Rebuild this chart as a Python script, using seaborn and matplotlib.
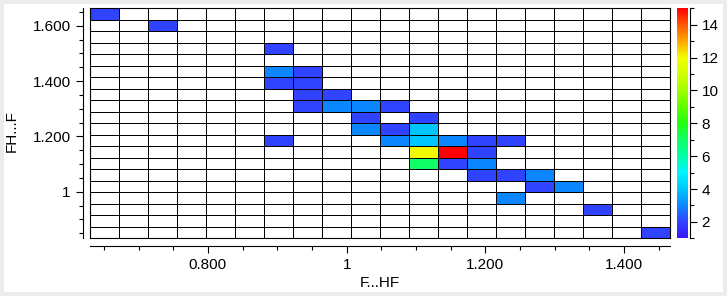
import numpy as np
import pandas as pd
import seaborn as sns
import matplotlib
matplotlib.use("Agg")
import matplotlib.pyplot as plt
from matplotlib.colors import LinearSegmentedColormap
from matplotlib.ticker import MultipleLocator, FuncFormatter

# ---- data: 2D histogram bins ----
x_bin_start = 0.6305
x_bin_width = 0.0418
y_bin_start = 0.8316
y_bin_width = 0.04157
n_bins = 20

# non-empty cells: x bin index, y bin index (from bottom), count
cell_x = [0, 2, 6, 6, 7, 6, 7, 7, 8, 7, 8, 9, 10, 9, 11, 9, 10, 11, 6, 10, 11, 12, 13, 14,
          11, 12, 13, 11, 12, 13, 13, 14, 15, 15, 16, 14, 17, 19]
cell_y = [19, 18, 16, 14, 14, 13, 13, 12, 12, 11, 11, 11, 11, 10, 10, 9, 9, 9, 8, 8, 8, 8, 8, 8,
          7, 7, 7, 6, 6, 6, 5, 5, 5, 4, 4, 3, 2, 0]
cell_count = [2, 2, 2, 3, 2, 2, 2, 2, 2, 2, 3, 3, 2, 2, 2, 3, 2, 4, 2, 3, 4, 3, 2, 2,
              12, 15, 2, 7, 2, 3, 2, 2, 3, 2, 3, 3, 2, 2]

x_label = "F...HF"
y_label = "FH...F"
c_min, c_max = 1, 15

# colour table (value -> colour)
ct_values = [1, 2, 3, 4, 5, 6, 7, 8, 9, 10, 11, 12, 13, 14, 15]
ct_colors = ["#3c14ff", "#3044ff", "#0a88ff", "#00c8ff", "#00f4ff", "#00ffa8", "#10ff66",
             "#20ff10", "#60ff00", "#a0ff00", "#d0ff00", "#f0ff00", "#ffa800", "#ff5a00", "#ff0000"]

# ---- build table ----
grid = np.zeros((n_bins, n_bins))
for xi, yi, c in zip(cell_x, cell_y, cell_count):
    grid[yi, xi] = c
x_centers = x_bin_start + x_bin_width * (np.arange(n_bins) + 0.5)
y_centers = y_bin_start + y_bin_width * (np.arange(n_bins) + 0.5)
df = pd.DataFrame(grid, index=np.round(y_centers, 4), columns=np.round(x_centers, 4))
df = df.iloc[::-1]

cmap = LinearSegmentedColormap.from_list(
    "igor_rainbow",
    [((v - c_min) / (c_max - c_min), col) for v, col in zip(ct_values, ct_colors)])
cmap.set_under("white")

sns.set_style("ticks")
plt.rcParams["font.family"] = ["Liberation Sans", "DejaVu Sans"]
plt.rcParams["font.size"] = 11
for k in ("text.color", "axes.labelcolor", "xtick.color", "ytick.color", "axes.edgecolor"):
    plt.rcParams[k] = "black"

FS = 11
W, H = 727, 296
fig = plt.figure(figsize=(W / 100, H / 100), dpi=100, facecolor="#ececec")
bg = fig.add_axes([4 / W, 4 / H, 719 / W, 288 / H], zorder=-10)
bg.set_facecolor("white")
bg.set_xticks([])
bg.set_yticks([])
for s in bg.spines.values():
    s.set_visible(False)

def rect(x0, y0, x1, y1):
    return [x0 / W, 1 - y1 / H, (x1 - x0) / W, (y1 - y0) / H]

plot_box = (90.3, 8.3, 670.3, 238.3)
ax = fig.add_axes(rect(*plot_box))
cax = fig.add_axes(rect(677.3, 8.3, 688.3, 238.3))

sns.heatmap(df, ax=ax, cmap=cmap, vmin=c_min, vmax=c_max, linewidths=0.65, linecolor="black",
            xticklabels=False, yticklabels=False, cbar_ax=cax)
ax.set_xlabel("")
ax.set_ylabel("")
for s in ax.spines.values():
    s.set_visible(True)
    s.set_linewidth(0.8)
    s.set_color("black")
ax.tick_params(length=0)

cbar = ax.collections[0].colorbar
cbar.outline.set_visible(False)
cax.tick_params(length=0, labelright=False, labelleft=False)
cax.set_yticks([])

# ---- real-valued axes overlay ----
ax2 = fig.add_axes(rect(*plot_box), facecolor="none")
ax2.set_xlim(x_bin_start, x_bin_start + n_bins * x_bin_width)
ax2.set_ylim(y_bin_start, y_bin_start + n_bins * y_bin_width)
ax2.spines["top"].set_visible(False)
ax2.spines["right"].set_visible(False)
ax2.spines["left"].set_position(("outward", 5.5))
ax2.spines["bottom"].set_position(("outward", 5.5))
for s in ("left", "bottom"):
    ax2.spines[s].set_linewidth(0.8)
    ax2.spines[s].set_color("black")

def igor_fmt(v, pos):
    if abs(v - round(v)) < 1e-9:
        return f"{int(round(v))}"
    return f"{v:.3f}"

for axis in (ax2.xaxis, ax2.yaxis):
    axis.set_major_locator(MultipleLocator(0.2))
    axis.set_minor_locator(MultipleLocator(0.05))
    axis.set_major_formatter(FuncFormatter(igor_fmt))
ax2.tick_params(which="major", direction="out", length=5.2, width=0.8, color="black",
                labelsize=FS, pad=3.5)
ax2.tick_params(which="minor", direction="out", length=3.2, width=0.8, color="black")
ax2.grid(False)

# ---- colour bar scale ----
ax3 = fig.add_axes(rect(689.2, 8.3, 690.0, 238.3), facecolor="none")
ax3.set_ylim(c_min, c_max)
for s in ("top", "left", "bottom"):
    ax3.spines[s].set_visible(False)
ax3.spines["right"].set_linewidth(0.8)
ax3.spines["right"].set_color("black")
ax3.xaxis.set_visible(False)
ax3.yaxis.tick_right()
ax3.yaxis.set_major_locator(MultipleLocator(2))
ax3.yaxis.set_minor_locator(MultipleLocator(1))
ax3.yaxis.set_major_formatter(FuncFormatter(lambda v, p: f"{int(round(v))}"))
ax3.tick_params(which="major", direction="out", length=5.2, width=0.8, labelsize=FS, pad=3)
ax3.tick_params(which="minor", direction="out", length=3.2, width=0.8)

fig.text(380 / W, 1 - 283 / H, x_label, ha="center", va="center", fontsize=FS)
fig.text(12 / W, 1 - 131 / H, y_label, ha="center", va="center", rotation=90, fontsize=FS)

fig.savefig("out.png", dpi=100, facecolor=fig.get_facecolor())
